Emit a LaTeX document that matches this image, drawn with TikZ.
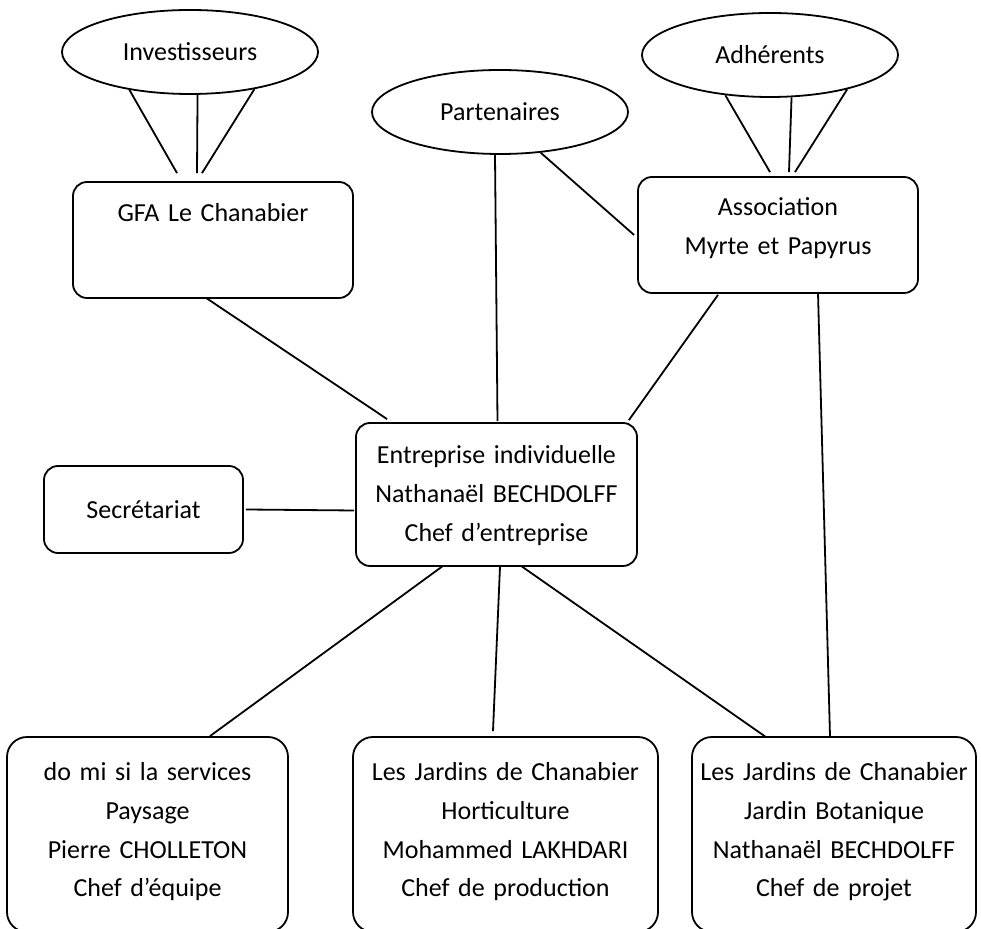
\documentclass[tikz,border=0pt]{standalone}
\usepackage{fontspec}
\setmainfont{Carlito}
\usetikzlibrary{shapes.geometric,calc}

\tikzset{
  orgbox/.style={draw, line width=0.9pt, rounded corners=7pt, inner sep=0pt, align=center},
  orgoval/.style={draw, line width=0.9pt, ellipse, inner sep=0pt, minimum width=128pt, minimum height=42pt},
  orglink/.style={line width=0.9pt},
}

\begin{document}
\begin{tikzpicture}[x=0.5pt, y=-0.5pt, font=\fontsize{13}{19.3}\selectfont]
\useasboundingbox (0,0) rectangle (981,929);

% ovales du haut
\node[orgoval] (inv) at (190,52) {Investisseurs};
\node[orgoval] (par) at (500,112) {Partenaires};
\node[orgoval] (adh) at (770,55) {Adhérents};

% structures
\node[orgbox, text width=140pt, text height=20pt, text depth=38pt] (gfa) at (213,240) {GFA Le Chanabier};
\node[orgbox, text width=140pt, text height=19.5pt, text depth=38.5pt] (asso) at (778,235) {Association\\Myrte et Papyrus};
\node[orgbox, text width=140.5pt, text height=20.5pt, text depth=51pt] (ent) at (496.5,494.5) {Entreprise individuelle\\Nathanaël BECHDOLFF\\Chef d’entreprise};
\node[orgbox, minimum width=99.5pt, minimum height=43.5pt] (sec) at (143.5,509.5) {Secrétariat};

% services
\node[orgbox, rounded corners=10pt, text width=140.5pt, text height=22pt, text depth=75.5pt] (ser) at (147.5,834.5) {do mi si la services\\Paysage\\Pierre CHOLLETON\\Chef d’équipe};
\node[orgbox, rounded corners=10pt, text width=152.5pt, text height=22pt, text depth=75.5pt] (hor) at (505.5,834.5) {Les Jardins de Chanabier\\Horticulture\\Mohammed LAKHDARI\\Chef de production};
\node[orgbox, rounded corners=10pt, text width=142pt, text height=22pt, text depth=75.5pt] (jbo) at (834,834.5) {Les Jardins de Chanabier\\Jardin Botanique\\Nathanaël BECHDOLFF\\Chef de projet};

% liens
\foreach \a/\dx in {212/-36,280/-16,330/-11}
  \draw[orglink] (inv.\a) -- ($(gfa.north)+(\dx,-8)$);
\foreach \a/\dx in {222/-8,297/11,336/17}
  \draw[orglink] (adh.\a) -- ($(asso.north)+(\dx,-4)$);
\draw[orglink] ($(par.south)+(-5,0)$) -- ($(ent.north)+(1,-1)$);
\draw[orglink] (par.315) -- ($(asso.west)+(-3,0)$);
\draw[orglink] ($(gfa.south)+(-7,-1)$) -- ($(ent.north west)+(32,-3)$);
\draw[orglink] ($(asso.south)+(-60,1)$) -- ($(ent.north east)+(-9,-2)$);
\draw[orglink] ($(sec.east)+(2,0)$) -- ($(ent.west)+(-1,16)$);
\draw[orglink] ($(asso.south)+(40,-1)$) -- ($(jbo.north)+(-4,0)$);
\draw[orglink] ($(ent.south)+(-53.5,-1)$) -- ($(ser.north)+(62.5,0)$);
\draw[orglink] ($(ent.south)+(3.5,0)$) -- ($(hor.north)+(-12.5,-5)$);
\draw[orglink] ($(ent.south)+(24.5,-1)$) -- ($(jbo.north)+(-68,1)$);
\end{tikzpicture}
\end{document}
